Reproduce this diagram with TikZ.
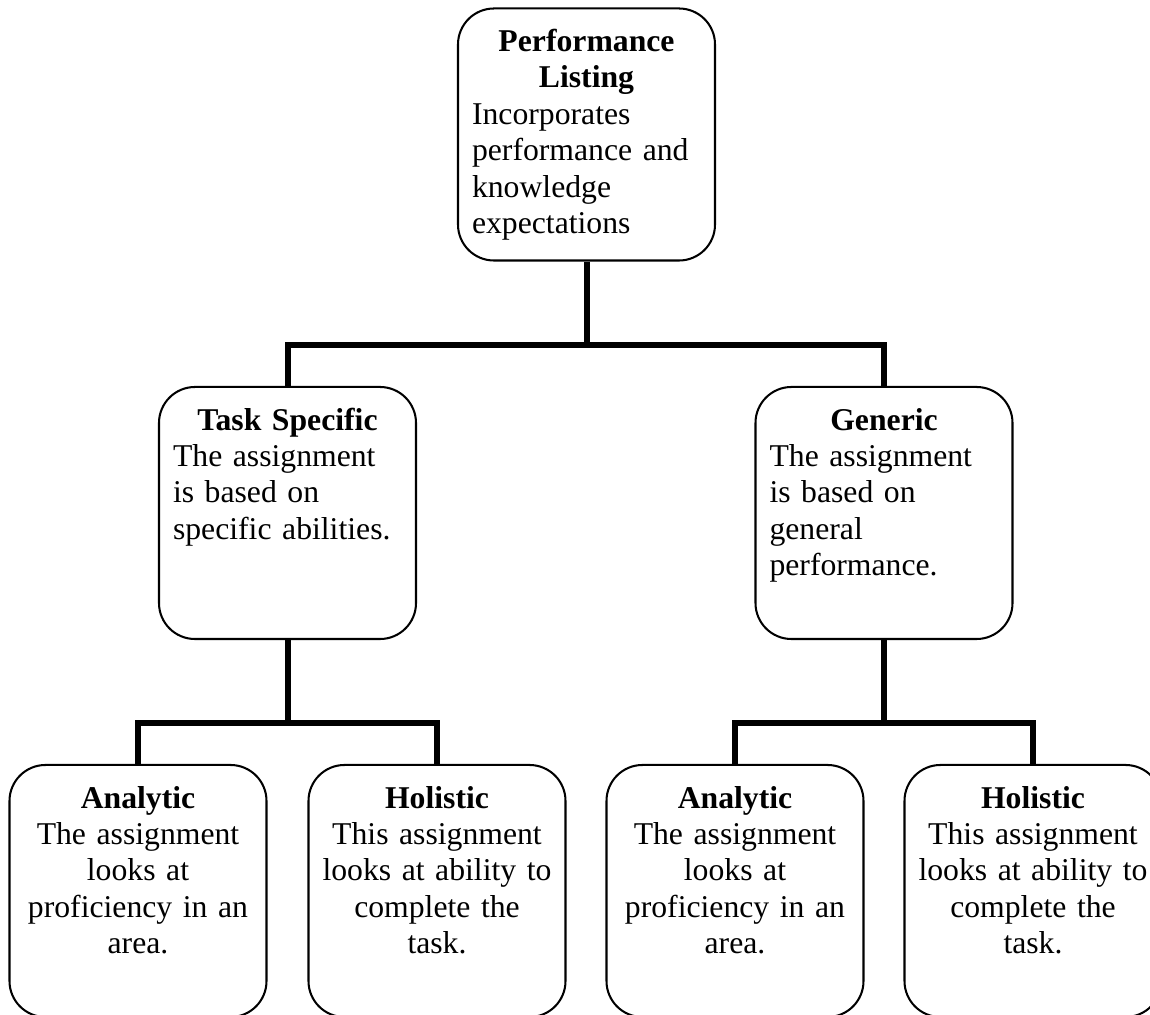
\documentclass[tikz,border=0pt]{standalone}
\usepackage{fontspec}
\setmainfont{Liberation Serif}
\newcommand{\cardtitle}[1]{{\centering\bfseries #1\par}}
\begin{document}
\begin{tikzpicture}[x=0.4416pt, y=-0.4416pt,
  card/.style={draw, line width=0.9pt, rounded corners=15.9pt,
    text width=101.1pt, inner xsep=6.2pt, inner ysep=0pt,
    text height=19pt, text depth=92.3pt,
    font=\fontsize{14pt}{16.1pt}\selectfont},
  leftcard/.style={card, align=left},
  midcard/.style={card, align=center, text width=107pt, inner xsep=3.25pt},
  link/.style={line width=2.65pt}]
  \useasboundingbox (0,0) rectangle (1150,1015);
  \clip (0,0) rectangle (1150,1015);
  \node[leftcard](perf) at (586.5,134.5) {\cardtitle{Performance\\Listing}Incorporates\\performance and\\knowledge\\expectations};
  \node[leftcard](task) at (287.5,513) {\cardtitle{Task Specific}The assignment\\is based on\\specific abilities.};
  \node[leftcard](gen) at (884,513) {\cardtitle{Generic}The assignment\\is based on\\general\\performance.};
  \node[midcard](ana1) at (138,891) {\textbf{Analytic}\\The assignment\\looks at\\proficiency in an\\area.};
  \node[midcard](hol1) at (437,891) {\textbf{Holistic}\\This assignment\\looks at ability to\\complete the\\task.};
  \node[midcard](ana2) at (735,891) {\textbf{Analytic}\\The assignment\\looks at\\proficiency in an\\area.};
  \node[midcard](hol2) at (1033,891) {\textbf{Holistic}\\This assignment\\looks at ability to\\complete the\\task.};
  % junctions
  \coordinate(j1) at (586.5,345);
  \coordinate(j2) at (287.5,723);
  \coordinate(j3) at (884,723);
  \draw[link] (perf.south) -- (j1);
  \draw[link] (task.north) |- (j1) -| (gen.north);
  \draw[link] (task.south) -- (j2);
  \draw[link] (ana1.north) |- (j2) -| (hol1.north);
  \draw[link] (gen.south) -- (j3);
  \draw[link] (ana2.north) |- (j3) -| (hol2.north);
\end{tikzpicture}
\end{document}
